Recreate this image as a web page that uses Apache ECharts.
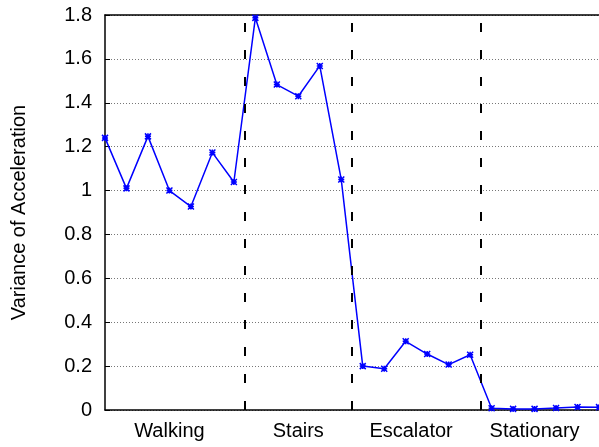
<!DOCTYPE html>
<html lang="en">
<head>
    <meta charset="UTF-8">
    <title>Variance of Acceleration</title>
    <script src="https://cdn.jsdelivr.net/npm/echarts@6/dist/echarts.min.js"></script>
    <style>
        html, body { margin: 0; padding: 0; background: #fff; }
        #main { width: 599px; height: 447px; }
    </style>
</head>
<body>
    <div id="main"></div>
    <script>
        // sample index along x, one reading per sample
        var variance = [1.24, 1.01, 1.247, 1.0, 0.927, 1.173, 1.039,
                        1.787, 1.483, 1.43, 1.568, 1.05,
                        0.2, 0.188, 0.313, 0.255, 0.207, 0.252,
                        0.008, 0.005, 0.005, 0.009, 0.014, 0.013];
        // activity names and where their label sits on the x axis
        var activities = ['Walking', 'Stairs', 'Escalator', 'Stationary'];
        var activityPos = [3, 9, 14.25, 20];
        // boundaries between activities
        var boundaries = [6.5, 11.5, 17.5];

        var points = variance.map(function (v, i) { return [i, v]; });

        var myChart = echarts.init(document.getElementById('main'));
        var option = {
            animation: false,
            textStyle: { fontFamily: 'Liberation Sans, Arial, sans-serif' },
            grid: { left: 105, right: 0, top: 15, bottom: 37 },
            xAxis: [{
                type: 'value',
                min: 0,
                max: variance.length - 1,
                interval: 0.25,
                axisLine: { lineStyle: { color: '#000', width: 1.5 } },
                axisTick: { show: false },
                splitLine: { show: false },
                axisLabel: {
                    color: '#000',
                    fontSize: 20,
                    margin: 11,
                    showMinLabel: false,
                    showMaxLabel: false,
                    formatter: function (v) {
                        var k = activityPos.indexOf(v);
                        return k >= 0 ? activities[k] : '';
                    }
                }
            }, {
                type: 'value',
                position: 'top',
                min: 0,
                max: variance.length - 1,
                axisLine: { show: true, onZero: false, lineStyle: { color: '#000', width: 1.5 } },
                axisTick: { show: false },
                axisLabel: { show: false },
                splitLine: { show: false }
            }],
            yAxis: {
                type: 'value',
                min: 0,
                max: 1.8,
                interval: 0.2,
                name: 'Variance of Acceleration',
                nameLocation: 'middle',
                nameGap: 76,
                nameTextStyle: { color: '#000', fontSize: 20 },
                axisLine: { show: true, lineStyle: { color: '#000', width: 1.5 } },
                axisTick: { show: true, inside: true, length: 5, lineStyle: { color: '#000' } },
                axisLabel: { color: '#000', fontSize: 20, margin: 13 },
                splitLine: { lineStyle: { color: '#777', type: [1, 2], width: 1 } }
            },
            series: [{
                type: 'line',
                data: points,
                xAxisIndex: 0,
                symbol: 'path://M0,0L10,10M10,0L0,10M5,0L5,10M0,5L10,5',
                symbolSize: 6,
                lineStyle: { color: '#0000ff', width: 1.5 },
                itemStyle: { color: '#0000ff', borderColor: '#0000ff', borderWidth: 1.5 },
                markLine: {
                    silent: true,
                    symbol: 'none',
                    label: { show: false },
                    lineStyle: { color: '#000', type: [9, 18], width: 2 },
                    data: boundaries.map(function (b) { return { xAxis: b }; })
                }
            }]
        };
        myChart.setOption(option);
    </script>
</body>
</html>
